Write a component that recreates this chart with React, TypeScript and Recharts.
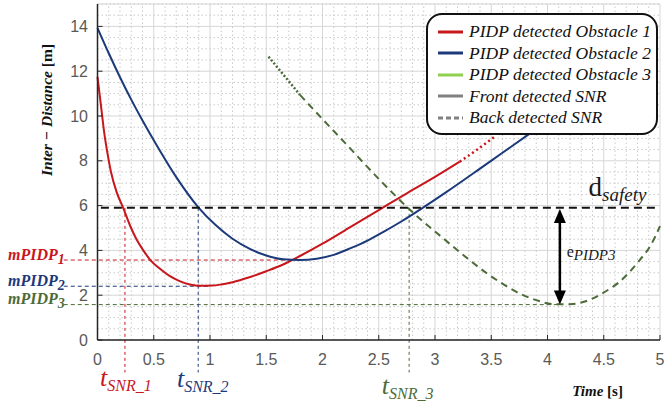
import { LineChart, Line, XAxis, YAxis, CartesianGrid, ReferenceLine, ReferenceDot, Legend } from 'recharts'

const RED = '#c8161d'
const BLUE = '#1c3a7a'
const OLIVE = '#4d6b39'
const LIGHT_GREEN = '#8fd14f'
const GRAY = '#808080'
const SERIF = '"Liberation Serif", "DejaVu Serif", serif'

// PIDP curves (time [s], inter-distance [m])
const obstacle1 = [
  { x: 0, y: 11.75 }, { x: 0.03, y: 10.5 }, { x: 0.06, y: 9.25 }, { x: 0.09, y: 8.3 },
  { x: 0.12, y: 7.5 }, { x: 0.17, y: 6.6 }, { x: 0.23, y: 5.88 }, { x: 0.29, y: 5.1 },
  { x: 0.35, y: 4.46 }, { x: 0.41, y: 3.98 }, { x: 0.47, y: 3.57 }, { x: 0.55, y: 3.2 },
  { x: 0.64, y: 2.86 }, { x: 0.73, y: 2.63 }, { x: 0.82, y: 2.48 }, { x: 0.92, y: 2.42 },
  { x: 1.02, y: 2.43 }, { x: 1.1, y: 2.48 }, { x: 1.2, y: 2.58 }, { x: 1.35, y: 2.8 },
  { x: 1.5, y: 3.07 }, { x: 1.65, y: 3.37 }, { x: 1.8, y: 3.75 }, { x: 2.0, y: 4.3 },
  { x: 2.25, y: 5.05 }, { x: 2.5, y: 5.8 }, { x: 2.75, y: 6.55 }, { x: 3.0, y: 7.28 },
  { x: 3.22, y: 7.96 },
]
const obstacle1Tail = [{ x: 3.22, y: 7.96 }, { x: 3.38, y: 8.52 }, { x: 3.53, y: 9.08 }]

const obstacle2 = [
  { x: 0, y: 13.93 }, { x: 0.1, y: 12.8 }, { x: 0.2, y: 11.73 }, { x: 0.3, y: 10.73 },
  { x: 0.4, y: 9.8 }, { x: 0.53, y: 8.66 }, { x: 0.7, y: 7.27 }, { x: 0.9, y: 5.9 },
  { x: 1.05, y: 5.13 }, { x: 1.2, y: 4.52 }, { x: 1.35, y: 4.08 }, { x: 1.5, y: 3.77 },
  { x: 1.65, y: 3.6 }, { x: 1.8, y: 3.57 }, { x: 1.95, y: 3.63 }, { x: 2.1, y: 3.8 },
  { x: 2.25, y: 4.1 }, { x: 2.4, y: 4.44 }, { x: 2.55, y: 4.85 }, { x: 2.7, y: 5.29 },
  { x: 2.86, y: 5.8 }, { x: 3.1, y: 6.6 }, { x: 3.4, y: 7.65 }, { x: 3.6, y: 8.36 },
  { x: 3.81, y: 9.1 }, { x: 3.95, y: 9.6 },
]

const obstacle3Head = [{ x: 1.52, y: 12.65 }, { x: 1.66, y: 11.8 }, { x: 1.8, y: 10.94 }]
const obstacle3 = [
  { x: 1.8, y: 10.94 }, { x: 2.0, y: 9.86 }, { x: 2.2, y: 8.8 }, { x: 2.51, y: 7.14 },
  { x: 2.78, y: 5.8 }, { x: 3.07, y: 4.55 }, { x: 3.27, y: 3.72 }, { x: 3.46, y: 2.98 },
  { x: 3.62, y: 2.45 }, { x: 3.75, y: 2.08 }, { x: 3.9, y: 1.78 }, { x: 4.05, y: 1.6 },
  { x: 4.2, y: 1.6 }, { x: 4.34, y: 1.73 }, { x: 4.5, y: 2.12 }, { x: 4.64, y: 2.6 },
  { x: 4.82, y: 3.57 }, { x: 4.92, y: 4.25 }, { x: 5, y: 5.08 },
]

const xTicks = [0, 0.5, 1, 1.5, 2, 2.5, 3, 3.5, 4, 4.5, 5]
const yTicks = [0, 2, 4, 6, 8, 10, 12, 14]
const minorXTicks = Array.from({ length: 51 }, (_, i) => i / 10).filter((v) => Math.round(v * 10) % 5 !== 0)
const minorYTicks = Array.from({ length: 31 }, (_, i) => i / 2).filter((v) => v % 2 !== 0)

const D_SAFETY = 5.9
const tSnr = [0.244, 0.895, 2.77]
const tSnrColors = [RED, BLUE, OLIVE]
const tSnrNames = ['SNR_1', 'SNR_2', 'SNR_3']
const mPidp = [3.57, 2.4, 1.58]
const mPidpEnd = [1.77, 1.0, 4.1]
const ARROW_X = 4.11

const legendItems = [
  { label: 'PIDP detected Obstacle 1', color: RED, dash: '' },
  { label: 'PIDP detected Obstacle 2', color: BLUE, dash: '' },
  { label: 'PIDP detected Obstacle 3', color: LIGHT_GREEN, dash: '' },
  { label: 'Front detected SNR', color: GRAY, dash: '' },
  { label: 'Back detected SNR', color: GRAY, dash: '5 3' },
]

function LegendBox() {
  return (
    <div style={{
      width: 228, height: 112, border: '2px solid #111', borderRadius: 16, background: '#fff',
      boxSizing: 'content-box', paddingTop: 6,
    }}>
      {legendItems.map((it) => (
        <div key={it.label} style={{ display: 'flex', alignItems: 'center', height: 21.5 }}>
          <svg width={40} height={10} style={{ flex: 'none' }}>
            <line x1={10} y1={5} x2={35} y2={5} stroke={it.color} strokeWidth={3} strokeDasharray={it.dash || undefined} />
          </svg>
          <span style={{ fontFamily: SERIF, fontStyle: 'italic', fontSize: 17.5, color: '#111', marginLeft: 1, whiteSpace: 'nowrap' }}>
            {it.label}
          </span>
        </div>
      ))}
    </div>
  )
}

function note(key: string, x: number, y: number, render: (cx: number, cy: number) => any) {
  return (
    <ReferenceDot key={key} x={x} y={y} r={0} ifOverflow="visible"
      shape={(p: any) => render(p.cx, p.cy)} />
  )
}

function Arrow(p: any) {
  const { x1, y1, x2, y2 } = p
  const top = Math.min(y1, y2)
  const bot = Math.max(y1, y2)
  return (
    <g>
      <line x1={x1} y1={top + 10} x2={x2} y2={bot - 10} stroke="#000" strokeWidth={2.5} />
      <polygon points={`${x1},${top} ${x1 - 6},${top + 14} ${x1 + 6},${top + 14}`} fill="#000" />
      <polygon points={`${x1},${bot} ${x1 - 6},${bot - 14} ${x1 + 6},${bot - 14}`} fill="#000" />
    </g>
  )
}

export default function App() {
  return (
    <div style={{ position: 'absolute', left: 0, top: 0, width: 664, height: 403, background: '#fff' }}>
      <LineChart width={664} height={403} margin={{ top: 4, right: 4, left: 0, bottom: 0 }}>
        {minorXTicks.map((v) => (
          <ReferenceLine key={`gx${v}`} x={v} stroke="#c9c9c9" strokeWidth={1} strokeDasharray="1.5 2.5" />
        ))}
        {minorYTicks.map((v) => (
          <ReferenceLine key={`gy${v}`} y={v} stroke="#c9c9c9" strokeWidth={1} strokeDasharray="1.5 2.5" />
        ))}
        <CartesianGrid stroke="#d6d6d6" />
        <XAxis dataKey="x" type="number" domain={[0, 5]} ticks={xTicks} height={63}
          axisLine={{ stroke: '#262626', strokeWidth: 1.5 }} tickLine={{ stroke: '#262626' }}
          tickSize={-5} tickMargin={19}
          tick={{ fill: '#595959', fontSize: 16, fontFamily: '"Liberation Sans", sans-serif' }} />
        <YAxis type="number" domain={[0, 15]} ticks={yTicks} width={97.5}
          axisLine={{ stroke: '#262626', strokeWidth: 1.5 }} tickLine={{ stroke: '#262626' }}
          tickSize={-5} tickMargin={14.5}
          tick={{ fill: '#595959', fontSize: 16, fontFamily: '"Liberation Sans", sans-serif' }} />

        {mPidp.map((v, i) => (
          <ReferenceLine key={`m${i}`} ifOverflow="visible" stroke={tSnrColors[i]} strokeWidth={1}
            strokeDasharray="4 3" segment={[{ x: -0.3, y: v }, { x: mPidpEnd[i], y: v }]} />
        ))}
        {tSnr.map((v, i) => (
          <ReferenceLine key={`t${i}`} ifOverflow="visible" stroke={tSnrColors[i]} strokeWidth={1}
            strokeDasharray="3 3" segment={[{ x: v, y: D_SAFETY }, { x: v, y: -1.45 }]} />
        ))}

        <Line data={obstacle1} dataKey="y" type="monotone" stroke={RED} strokeWidth={2} dot={false} isAnimationActive={false} />
        <Line data={obstacle1Tail} dataKey="y" type="monotone" stroke={RED} strokeWidth={2.5} strokeDasharray="2 3" dot={false} isAnimationActive={false} />
        <Line data={obstacle2} dataKey="y" type="monotone" stroke={BLUE} strokeWidth={2} dot={false} isAnimationActive={false} />
        <Line data={obstacle3Head} dataKey="y" type="monotone" stroke={OLIVE} strokeWidth={2.5} strokeDasharray="2 2" dot={false} isAnimationActive={false} />
        <Line data={obstacle3} dataKey="y" type="monotone" stroke={OLIVE} strokeWidth={2} strokeDasharray="7 5" dot={false} isAnimationActive={false} />

        <ReferenceLine ifOverflow="visible" stroke="#111" strokeWidth={2} strokeDasharray="8 5"
          segment={[{ x: 0.03, y: D_SAFETY }, { x: 4.98, y: D_SAFETY }]} />
        <ReferenceLine ifOverflow="visible" segment={[{ x: ARROW_X, y: D_SAFETY - 0.05 }, { x: ARROW_X, y: mPidp[2] }]}
          shape={(p: any) => <Arrow {...p} />} />

        {note('ylabel', -0.404, 10.27, (cx, cy) => (
          <text x={cx} y={cy} transform={`rotate(-90 ${cx} ${cy})`} textAnchor="middle"
            fontFamily={SERIF} fontWeight="bold" fontSize={15.5} fill="#111">
            <tspan fontStyle="italic">Inter − Distance</tspan><tspan> [m]</tspan>
          </text>
        ))}
        {note('xlabel', 4.22, -2.5, (cx, cy) => (
          <text x={cx} y={cy} fontFamily={SERIF} fontWeight="bold" fontSize={15} fill="#111">
            <tspan fontStyle="italic">Time</tspan><tspan> [s]</tspan>
          </text>
        ))}
        {['1', '2', '3'].map((n, i) => note(`mp${n}`, -0.795, mPidp[i] + 0.02, (cx, cy) => (
          <text x={cx} y={cy} fontFamily={SERIF} fontWeight="bold" fontStyle="italic" fill={tSnrColors[i]}>
            <tspan fontSize={16}>mPIDP</tspan><tspan fontSize={14} dy={4}>{n}</tspan>
          </text>
        )))}
        {tSnrNames.map((n, i) => note(`ts${i}`, [0.022, 0.706, 2.527][i], [-2.05, -2.12, -2.4][i], (cx, cy) => (
          <text x={cx} y={cy} fontFamily={SERIF} fontStyle="italic" fill={tSnrColors[i]}>
            <tspan fontSize={26}>t</tspan><tspan fontSize={16} dy={5}>{n}</tspan>
          </text>
        )))}
        {note('dsafe', 4.365, 6.45, (cx, cy) => (
          <text x={cx} y={cy} fontFamily={SERIF} fill="#1a1a1a">
            <tspan fontSize={27}>d</tspan><tspan fontSize={19} fontStyle="italic" dy={5}>safety</tspan>
          </text>
        ))}
        {note('epidp', 4.17, 3.7, (cx, cy) => (
          <text x={cx} y={cy} fontFamily={SERIF} fill="#1a1a1a">
            <tspan fontSize={16}>e</tspan><tspan fontSize={15} fontStyle="italic" dy={3}>PIDP3</tspan>
          </text>
        ))}

        <Legend layout="vertical" align="center" verticalAlign="middle"
          wrapperStyle={{ left: 426, top: 13, width: 232 }} content={() => <LegendBox />} />
      </LineChart>
    </div>
  )
}
